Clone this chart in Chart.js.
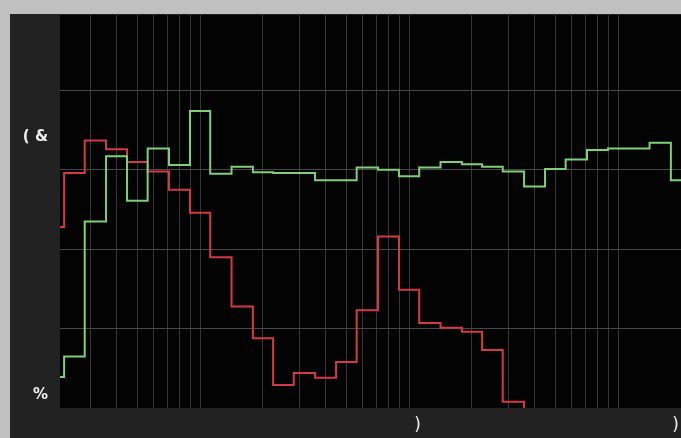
<!DOCTYPE html>
<html><head><meta charset="utf-8">
<script src="https://cdn.jsdelivr.net/npm/chart.js@4/dist/chart.umd.min.js"></script>
<style>
html,body{margin:0;padding:0;background:#c0c0c0;width:681px;height:438px;overflow:hidden}
#panel{position:absolute;left:10px;top:14px;width:671px;height:424px;background:#232222}
canvas{display:block}
</style></head><body>
<div id="panel"><canvas id="c" width="671" height="424"></canvas></div>
<script>
// 1/3-octave band centre frequencies (Hz)
const bands = [20,25,31.5,40,50,63,80,100,125,160,200,250,315,400,500,630,800,1000,1250,1600,2000,2500,3150,4000,5000,6300,8000,10000,12500,16000,20000];
// band levels
const redValues   = [22.8,29.6,33.7,32.6,31.0,29.8,27.5,24.6,19.0,12.8,8.8,2.9,4.4,3.8,5.8,12.3,21.6,14.9,10.7,10.1,9.6,7.3,0.8,-6];
const greenValues = [3.9,6.5,23.5,31.7,26.1,32.7,30.6,37.4,29.5,30.4,29.7,29.6,29.6,28.7,28.7,30.3,30.0,29.2,30.3,31.0,30.7,30.4,29.8,27.9,30.1,31.3,32.5,32.7,32.7,33.4,28.7];
// axes
const xMin = 21.37, xMax = 20000;
const xGridTicks = [30,40,50,60,70,80,90,100,200,300,400,500,600,700,800,900,1000,2000,3000,4000,5000,6000,7000,8000,9000,10000,20000];
const xLabelTicks = [1098, 18840];
const xLabels = [')', ')'];
const yMin = 0, yMax = 49.5;
const yGridTicks = [0,10,20,30,40];
const yLabelTicks = [1.64, 34.1];
const yLabels = ['%', '( &'];

const toPts = vals => vals.map((v,i)=>({x:bands[i], y:v}));

const bgPlugin = {
  id:'plotBg',
  beforeDraw(chart){
    const {ctx, chartArea:a} = chart;
    ctx.save(); ctx.fillStyle = '#030303';
    ctx.fillRect(a.left, a.top, a.right-a.left, a.bottom-a.top);
    ctx.restore();
  }
};

new Chart(document.getElementById('c'), {
  type:'line',
  data:{datasets:[
    {data:toPts(greenValues), borderColor:'#7fcf78', borderWidth:2, stepped:'middle', pointRadius:0, clip:0},
    {data:toPts(redValues), borderColor:'#d23a46', borderWidth:2, stepped:'middle', pointRadius:0, clip:0}
  ]},
  options:{
    responsive:false, animation:false,
    layout:{padding:{top:1,left:0,right:0,bottom:0}},
    plugins:{legend:{display:false}, tooltip:{enabled:false}},
    scales:{
      x:{
        type:'logarithmic', min:xMin, max:xMax,
        afterBuildTicks(s){ s.ticks = [...xGridTicks, ...xLabelTicks].sort((a,b)=>a-b).map(v=>({value:v})); },
        afterFit(s){ s.height = 30; s.paddingLeft = 0; s.paddingRight = 0; },
        border:{display:false},
        grid:{drawTicks:false, color:c=> (c.tick && xGridTicks.includes(c.tick.value) && c.tick.value<xMax) ? '#363636' : 'rgba(0,0,0,0)', lineWidth:1},
        ticks:{autoSkip:false, maxRotation:0, padding:7, color:'#eeeeee',
          font:{family:'DejaVu Sans', size:17},
          callback:(v)=>{ const i = xLabelTicks.indexOf(v); return i>=0 ? xLabels[i] : ''; }}
      },
      y:{
        type:'linear', min:yMin, max:yMax,
        afterBuildTicks(s){ s.ticks = [...yGridTicks, ...yLabelTicks].sort((a,b)=>a-b).map(v=>({value:v})); },
        afterFit(s){ s.width = 50; s.paddingTop = 0; s.paddingBottom = 0; },
        border:{display:false},
        grid:{drawTicks:false, color:c=> (c.tick && yGridTicks.includes(c.tick.value) && c.tick.value>yMin) ? '#474747' : 'rgba(0,0,0,0)', lineWidth:1},
        ticks:{autoSkip:false, padding:12, color:'#eeeeee',
          font:{family:'DejaVu Sans', size:15, weight:'bold'},
          callback:(v)=>{ const i = yLabelTicks.indexOf(v); return i>=0 ? yLabels[i] : ''; }}
      }
    }
  },
  plugins:[bgPlugin]
});
</script>
</body></html>
